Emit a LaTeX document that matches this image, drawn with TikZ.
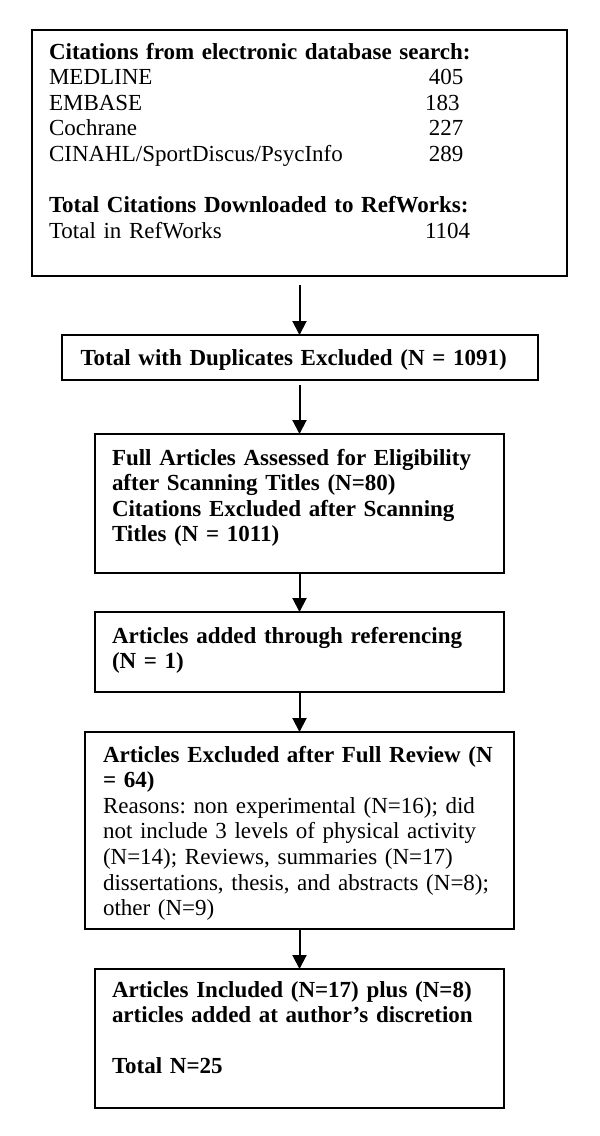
\documentclass[tikz,border=0pt]{standalone}
\usepackage{fontspec}
\setmainfont{Liberation Serif}
\usetikzlibrary{arrows.meta,positioning}

\newcommand{\dbrow}[3][0pt]{\makebox[190pt][l]{#2}\hspace{#1}#3}

\begin{document}
\frenchspacing
\begin{tikzpicture}[node distance = 20pt,
    box/.style={rectangle,draw=black,line width=1pt,align=left,inner xsep=8.5pt,inner ysep=0pt,outer sep=0pt,font=\fontsize{11.5}{12.8}\selectfont},
    flow/.style={line width=1pt,-{Triangle[width=7pt,length=7pt]}},
   ]

    \useasboundingbox (0,0) rectangle (300pt,-568pt);

    \node (search) [box,anchor=north,text width=250.5pt,text height=14.5pt,text depth=108.5pt] at (149.75pt,-15pt)
        { \textbf{Citations from electronic database search:}\\
          \dbrow{MEDLINE}{405}\\
          \dbrow[-2pt]{EMBASE}{183}\\
          \dbrow{Cochrane}{227}\\
          \dbrow{CINAHL/SportDiscus/PsycInfo}{289}\\[12.8pt]
          \textbf{Total Citations Downloaded to RefWorks:}\\
          \dbrow[-2pt]{Total in RefWorks}{1104} };

    \node (dedup)  [box,below=29.5pt of search,text width=219pt,inner xsep=9.5pt,text height=15pt,text depth=7.5pt]
        { \textbf{Total with Duplicates Excluded (N = 1091)} };

    \node (scan)   [box,below=27pt of dedup,text width=187.5pt,text height=15.5pt,text depth=54pt]
        { \bfseries Full Articles Assessed for Eligibility\\ after Scanning Titles (N=80)\\ Citations Excluded after Scanning\\ Titles (N = 1011) };

    \node (refs)   [box,below=19.5pt of scan,text width=187.5pt,text height=15.5pt,text depth=24.5pt]
        { \bfseries Articles added through referencing\\ (N = 1) };

    \node (review) [box,below=of refs,text width=196.5pt,inner xsep=9pt,text height=15pt,text depth=83.5pt]
        { {\bfseries Articles Excluded after Full Review (N\\ = 64)}\\
          Reasons: non experimental (N=16); did\\
          not include 3 levels of physical activity\\
          (N=14); Reviews, summaries (N=17)\\
          dissertations, thesis, and abstracts (N=8);\\
          other (N=9) };

    \node (incl)   [box,below=of review,text width=187.5pt,text height=14pt,text depth=55.5pt]
        { \bfseries Articles Included (N=17) plus (N=8)\\ articles added at author’s discretion\\[12.8pt] Total N=25 };

    \draw (search.south) edge[flow,shorten <=4.5pt] (dedup.north);
    \draw (dedup.south)  edge[flow,shorten <=2.5pt] (scan.north);
    \draw (scan.south)   edge[flow] (refs.north);
    \draw (refs.south)   edge[flow] (review.north);
    \draw (review.south) edge[flow] (incl.north);
  \end{tikzpicture}
\end{document}
